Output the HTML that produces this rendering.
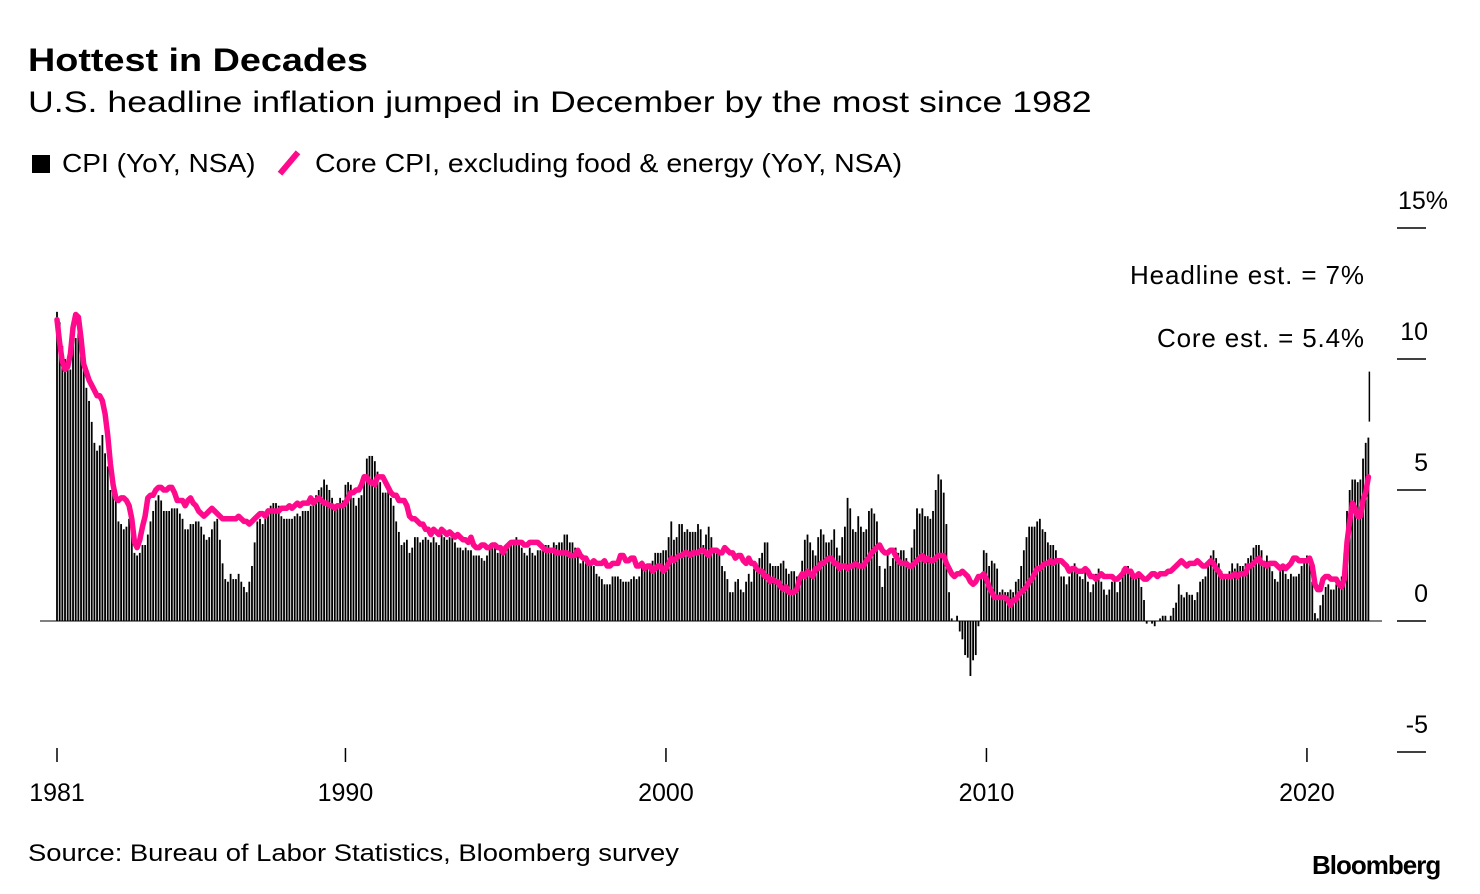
<!DOCTYPE html>
<html><head><meta charset="utf-8">
<style>
html,body{margin:0;padding:0;background:#fff;}
body{width:1480px;height:894px;position:relative;overflow:hidden;font-family:"Liberation Sans",sans-serif;color:#000;}
.t{position:absolute;white-space:nowrap;transform-origin:0 0;}
</style></head><body>
<div class="t" style="left:28px;top:42px;font-size:32px;font-weight:bold;transform:scaleX(1.18);">Hottest in Decades</div>
<div class="t" style="left:28px;top:86px;font-size:30px;transform:scaleX(1.19);">U.S. headline inflation jumped in December by the most since 1982</div>
<div style="position:absolute;left:32px;top:155px;width:18px;height:18px;background:#000;"></div>
<div class="t" style="left:62px;top:148px;font-size:26px;transform:scaleX(1.08);">CPI (YoY, NSA)</div>
<div style="position:absolute;left:286px;top:149px;width:6px;height:28px;background:#ff0a8c;transform:rotate(40deg);"></div>
<div class="t" style="left:315px;top:148px;font-size:26px;transform:scaleX(1.095);">Core CPI, excluding food &amp; energy (YoY, NSA)</div>
<div class="t" style="left:28px;top:840px;font-size:24px;transform:scaleX(1.14);">Source: Bureau of Labor Statistics, Bloomberg survey</div>
<div class="t" style="left:1312px;top:850px;font-size:26px;font-weight:bold;letter-spacing:-1px;">Bloomberg</div>
<svg id="chart" width="1480" height="894" style="position:absolute;left:0;top:0;" xmlns="http://www.w3.org/2000/svg"></svg>
<script>
const yearLabels=["1981","1990","2000","2010","2020"];
const yearTicks=[1981,1990,2000,2010,2020];
const yTicks=[15,10,5,0,-5];
const yTickLabels=["15%","10","5","0","-5"];
const cpi=[
11.8,11.4,10.5,10.0,9.8,9.6,10.8,10.8,11.0,10.1,9.6,8.9,
8.4,7.6,6.8,6.5,6.7,7.1,6.4,5.9,5.0,5.1,4.6,3.8,
3.7,3.5,3.6,3.9,3.5,2.6,2.5,2.6,2.9,2.9,3.3,3.8,
4.2,4.6,4.8,4.6,4.2,4.2,4.2,4.3,4.3,4.3,4.1,3.9,
3.5,3.5,3.7,3.7,3.8,3.8,3.6,3.3,3.1,3.2,3.5,3.8,
3.9,3.1,2.2,1.6,1.5,1.8,1.6,1.6,1.8,1.5,1.3,1.1,
1.5,2.1,3.0,3.8,3.9,3.7,3.9,4.3,4.4,4.5,4.5,4.4,
4.0,3.9,3.9,3.9,3.9,4.0,4.1,4.0,4.2,4.2,4.2,4.4,
4.7,4.8,5.0,5.1,5.4,5.2,5.0,4.7,4.3,4.5,4.7,4.6,
5.2,5.3,5.2,4.7,4.4,4.7,4.8,5.6,6.2,6.3,6.3,6.1,
5.7,5.3,4.9,4.9,5.0,4.7,4.4,3.8,3.4,2.9,3.0,3.1,
2.6,2.8,3.2,3.2,3.0,3.1,3.2,3.1,3.0,3.2,3.0,2.9,
3.3,3.2,3.1,3.2,3.2,3.0,2.8,2.8,2.7,2.8,2.7,2.7,
2.5,2.5,2.5,2.4,2.3,2.5,2.8,2.9,3.0,2.6,2.7,2.7,
2.8,2.9,2.9,3.1,3.2,3.0,2.8,2.6,2.5,2.8,2.6,2.5,
2.7,2.7,2.8,2.9,2.9,2.8,3.0,2.9,3.0,3.0,3.3,3.3,
3.0,3.0,2.8,2.5,2.2,2.3,2.2,2.2,2.2,2.1,1.8,1.7,
1.6,1.4,1.4,1.4,1.7,1.7,1.7,1.6,1.5,1.5,1.5,1.6,
1.7,1.6,1.7,2.3,2.1,2.0,2.1,2.3,2.6,2.6,2.6,2.7,
2.7,3.2,3.8,3.1,3.2,3.7,3.7,3.4,3.5,3.4,3.4,3.4,
3.7,3.5,2.9,3.3,3.6,3.2,2.7,2.7,2.6,2.1,1.9,1.6,
1.1,1.1,1.5,1.6,1.2,1.1,1.5,1.8,1.5,2.0,2.2,2.4,
2.6,3.0,3.0,2.2,2.1,2.1,2.1,2.2,2.3,2.0,1.8,1.9,
1.9,1.7,1.7,2.3,3.1,3.3,3.0,2.7,2.5,3.2,3.5,3.3,
3.0,3.0,3.1,3.5,2.8,2.5,3.2,3.6,4.7,4.3,3.5,3.4,
4.0,3.6,3.4,3.5,4.2,4.3,4.1,3.8,2.1,1.3,2.0,2.5,
2.1,2.4,2.8,2.6,2.7,2.7,2.4,2.0,2.8,3.5,4.3,4.1,
4.3,4.0,4.0,3.9,4.2,5.0,5.6,5.4,4.9,3.7,1.1,0.1,
0.0,0.2,-0.4,-0.7,-1.3,-1.4,-2.1,-1.5,-1.3,-0.2,1.8,2.7,
2.6,2.1,2.3,2.2,2.0,1.1,1.2,1.1,1.1,1.2,1.1,1.5,
1.6,2.1,2.7,3.2,3.6,3.6,3.6,3.8,3.9,3.5,3.4,3.0,
2.9,2.9,2.7,2.3,1.7,1.7,1.4,1.7,2.0,2.2,1.8,1.7,
1.6,2.0,1.5,1.1,1.4,1.8,2.0,1.5,1.2,1.0,1.2,1.5,
1.6,1.1,1.5,2.0,2.1,2.1,2.0,1.7,1.7,1.7,1.3,0.8,
-0.1,0.0,-0.1,-0.2,0.0,0.1,0.2,0.2,0.0,0.2,0.5,0.7,
1.4,1.0,0.9,1.1,1.0,1.0,0.8,1.1,1.5,1.6,1.7,2.1,
2.5,2.7,2.4,2.2,1.9,1.6,1.7,1.9,2.2,2.0,2.2,2.1,
2.1,2.2,2.4,2.5,2.8,2.9,2.9,2.7,2.3,2.5,2.2,1.9,
1.6,1.5,1.9,2.0,1.8,1.6,1.8,1.7,1.7,1.8,2.1,2.3,
2.5,2.3,1.5,0.3,0.1,0.6,1.0,1.3,1.4,1.2,1.2,1.4,
1.4,1.7,2.6,4.2,5.0,5.4,5.4,5.3,5.4,6.2,6.8,7.0];
const core=[
11.5,10.6,9.9,9.6,9.7,10.2,11.2,11.7,11.6,10.8,9.8,9.5,
9.2,9.0,8.8,8.6,8.6,8.4,7.9,7.1,6.0,5.2,4.7,4.6,
4.7,4.7,4.6,4.4,3.9,3.0,2.8,3.1,3.6,4.0,4.7,4.8,
4.8,5.0,5.1,5.1,5.0,5.0,5.1,5.1,4.9,4.6,4.6,4.6,
4.4,4.6,4.7,4.5,4.4,4.2,4.1,4.0,4.1,4.2,4.3,4.2,
4.1,4.0,3.9,3.9,3.9,3.9,3.9,3.9,4.0,3.9,3.8,3.8,
3.7,3.8,3.9,4.0,4.1,4.1,4.0,4.2,4.2,4.2,4.2,4.2,
4.3,4.3,4.3,4.4,4.3,4.4,4.5,4.4,4.5,4.5,4.5,4.7,
4.5,4.6,4.7,4.6,4.5,4.5,4.4,4.4,4.3,4.4,4.4,4.4,
4.5,4.7,4.9,4.9,5.0,5.0,5.2,5.5,5.5,5.3,5.3,5.2,
5.5,5.5,5.5,5.3,5.1,4.9,4.8,4.8,4.6,4.6,4.6,4.4,
4.0,3.9,3.9,3.8,3.7,3.7,3.5,3.5,3.3,3.5,3.4,3.3,
3.5,3.4,3.3,3.4,3.3,3.2,3.3,3.2,3.1,3.1,3.0,3.2,
2.9,2.8,2.8,2.9,2.9,2.8,2.8,2.9,2.9,2.8,2.8,2.6,
2.8,2.9,3.0,3.0,3.0,3.0,3.0,2.9,2.9,3.0,3.0,3.0,
3.0,2.9,2.8,2.7,2.7,2.7,2.7,2.6,2.6,2.6,2.6,2.6,
2.5,2.5,2.5,2.7,2.5,2.4,2.4,2.2,2.2,2.3,2.2,2.2,
2.2,2.3,2.1,2.1,2.2,2.2,2.2,2.5,2.5,2.3,2.3,2.4,
2.4,2.1,2.1,2.2,2.0,2.1,2.1,1.9,2.0,2.1,2.1,1.9,
2.0,2.2,2.4,2.3,2.4,2.5,2.5,2.6,2.6,2.5,2.6,2.6,
2.6,2.7,2.7,2.6,2.5,2.7,2.7,2.7,2.6,2.6,2.8,2.7,
2.6,2.6,2.4,2.5,2.5,2.3,2.2,2.4,2.2,2.2,2.0,1.9,
1.9,1.7,1.7,1.5,1.6,1.5,1.5,1.3,1.2,1.3,1.1,1.1,
1.1,1.2,1.6,1.8,1.7,1.9,1.8,1.7,2.0,2.0,2.2,2.2,
2.3,2.4,2.4,2.2,2.2,2.0,2.1,2.1,2.0,2.1,2.1,2.2,
2.1,2.1,2.1,2.3,2.4,2.6,2.7,2.8,2.9,2.7,2.6,2.6,
2.7,2.7,2.5,2.3,2.2,2.2,2.2,2.1,2.1,2.2,2.3,2.4,
2.5,2.3,2.4,2.3,2.3,2.4,2.5,2.5,2.5,2.2,2.0,1.8,
1.7,1.8,1.8,1.9,1.8,1.7,1.5,1.4,1.5,1.7,1.7,1.8,
1.6,1.3,1.1,0.9,0.9,0.9,0.9,0.9,0.8,0.6,0.8,0.8,
1.0,1.1,1.2,1.3,1.5,1.6,1.8,2.0,2.0,2.1,2.2,2.2,
2.3,2.2,2.3,2.3,2.3,2.2,2.1,1.9,2.0,2.0,1.9,1.9,
1.9,2.0,1.9,1.7,1.7,1.6,1.7,1.8,1.7,1.7,1.7,1.7,
1.6,1.6,1.7,1.8,2.0,1.9,1.9,1.7,1.7,1.8,1.7,1.6,
1.6,1.7,1.8,1.8,1.7,1.8,1.8,1.8,1.9,1.9,2.0,2.1,
2.2,2.3,2.2,2.1,2.2,2.2,2.2,2.3,2.2,2.1,2.1,2.2,
2.3,2.2,2.0,1.9,1.7,1.7,1.7,1.7,1.7,1.8,1.7,1.8,
1.8,1.8,2.1,2.1,2.2,2.3,2.4,2.2,2.2,2.1,2.2,2.2,
2.2,2.1,2.0,2.1,2.0,2.1,2.2,2.4,2.4,2.3,2.3,2.3,
2.3,2.4,2.1,1.4,1.2,1.2,1.6,1.7,1.7,1.6,1.6,1.6,
1.4,1.3,1.6,3.0,3.8,4.5,4.3,4.0,4.0,4.6,4.9,5.5];
const headlineEst=7.0, coreEst=5.4;

const NS='http://www.w3.org/2000/svg';
const svg=document.getElementById('chart');
const x0=57, pxPerYear=32.05;
function xScale(m){return x0+m*pxPerYear/12;}
function xYear(yr){return x0+(yr-1981)*pxPerYear;}
function yScale(v){return 621-v*26.2;}
function mk(tag,attrs){const e=document.createElementNS(NS,tag);for(const k in attrs)e.setAttribute(k,attrs[k]);svg.appendChild(e);return e;}

cpi.forEach((v,i)=>{
  const x=xScale(i), y0=yScale(0), y1=yScale(v);
  const r=mk('rect',{x:x-0.9,y:Math.min(y0,y1),width:1.8,height:Math.abs(y1-y0),fill:'#000'});
  
  
});
const zl=mk('line',{x1:40,x2:1382,y1:yScale(0),y2:yScale(0),stroke:'#000','stroke-width':1});


const pts=core.map((v,i)=>xScale(i).toFixed(1)+','+yScale(v).toFixed(1)).join(' ');
const pl=mk('polyline',{points:pts,fill:'none',stroke:'#ff0a8c','stroke-width':5.5,'stroke-linejoin':'round','stroke-linecap':'round'});


const lastX=xScale(cpi.length-1)+1;
const el=mk('line',{x1:lastX,x2:lastX,y1:yScale(headlineEst)-66,y2:yScale(headlineEst)-16,stroke:'#000','stroke-width':1.5});


const a1=mk('text',{x:1364,y:284,'text-anchor':'end','font-size':26,'textLength':234,'font-family':'Liberation Sans, sans-serif'});
a1.textContent='Headline est. = '+headlineEst.toFixed(0)+'%';


const a2=mk('text',{x:1364,y:347,'text-anchor':'end','font-size':26,'textLength':207,'font-family':'Liberation Sans, sans-serif'});
a2.textContent='Core est. = '+coreEst+'%';


yTicks.forEach((t,i)=>{
  const y=yScale(t);
  const l=mk('line',{x1:1397,x2:1426,y1:y,y2:y,stroke:'#000','stroke-width':1.5});
  
  
  const tx=mk('text',{x:1428,y:y-19,'text-anchor':'end','font-size':25,'font-family':'Liberation Sans, sans-serif'});
  if(i===0){tx.setAttribute('text-anchor','start');tx.setAttribute('x',1398);}
  tx.textContent=yTickLabels[i];
  
  
});
yearTicks.forEach((yr,i)=>{
  const x=xYear(yr);
  const l=mk('line',{x1:x,x2:x,y1:748,y2:762,stroke:'#000','stroke-width':1.5});
  
  
  const tx=mk('text',{x:x,y:801,'text-anchor':'middle','font-size':25,'font-family':'Liberation Sans, sans-serif'});
  tx.textContent=yearLabels[i];
  
  
});
</script>
</body></html>
